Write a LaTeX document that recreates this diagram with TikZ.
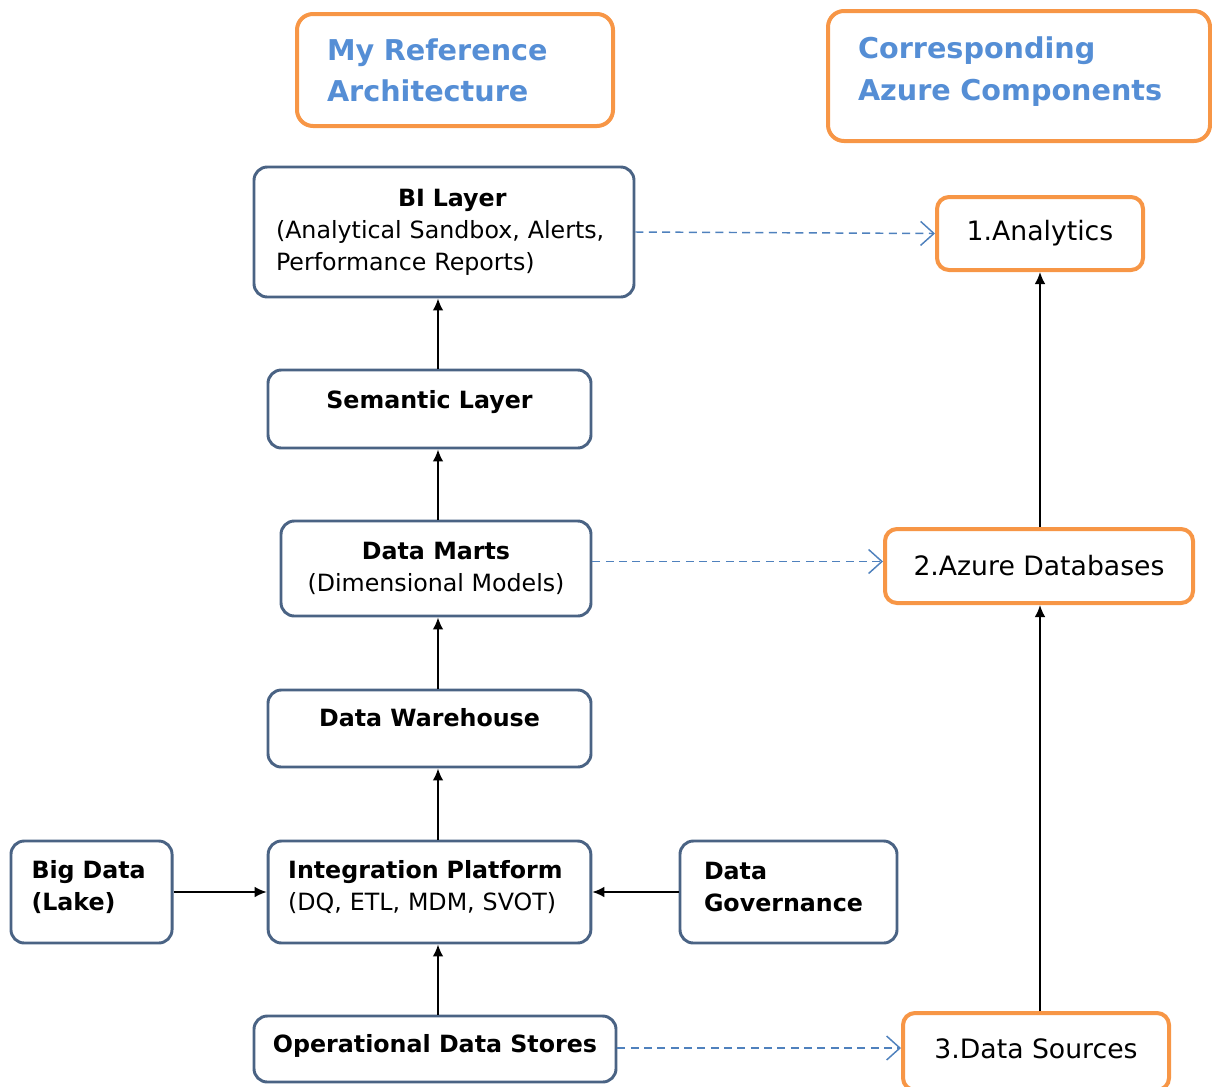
\documentclass[tikz,border=0pt]{standalone}
\usepackage{fontspec}
\setmainfont{DejaVu Sans}
\usepackage{xcolor}
\usetikzlibrary{arrows.meta,positioning}
\definecolor{archslate}{HTML}{4A6384}
\definecolor{azorange}{HTML}{F79646}
\definecolor{headblue}{HTML}{558ED5}
\definecolor{maplink}{HTML}{4F81BD}
\newcommand{\layerfont}{\fontsize{17.8pt}{24pt}\selectfont}
\newcommand{\azfont}{\fontsize{20pt}{24pt}\selectfont}
\newcommand{\headfont}{\fontsize{21.5pt}{31pt}\selectfont\bfseries}

\begin{document}
\begin{tikzpicture}[x=0.75pt, y=-0.75pt,
  layer/.style={draw=archslate, line width=2.2pt, rounded corners=10pt, fill=white,
    inner sep=0pt, font=\layerfont},
  azbox/.style={draw=azorange, line width=3pt, rounded corners=9pt, fill=white,
    inner sep=0pt, font=\azfont},
  headbox/.style={draw=azorange, line width=3pt, rounded corners=12pt, inner sep=0pt,
    inner xsep=22.5pt, text=headblue, font=\headfont, align=left},
  flow/.style={-{Latex[length=9pt,width=8pt]}, line width=1.3pt},
  maps/.style={-{Straight Barb[length=10pt,width=18pt]}, maplink, line width=1.1pt,
    dash pattern=on 6pt off 4pt}]
  \useasboundingbox (0,0) rectangle (1212,1086);
  \clip (0,0) rectangle (1212,1086);

  % ── Column headings ──
  \node[headbox, text width=192pt, minimum height=84pt] (refhead) at (455,70)
    {My Reference\\Architecture};
  \node[headbox, text width=241.5pt, minimum height=97.5pt, text depth=42pt] (azhead) at (1019,76)
    {Corresponding\\Azure Components};

  % ── Reference architecture layers ──
  \node[layer, text width=252pt, inner xsep=16.5pt, minimum height=97.5pt, align=left] (bi) at (444,232)
    {\hspace*{91.5pt}\textbf{BI Layer}\\(Analytical Sandbox, Alerts,\\Performance Reports)};
  \node[layer, minimum width=242.25pt, minimum height=58.5pt, text depth=14.7pt] (sem) at (429.5,409)
    {\textbf{Semantic Layer}};
  \node[layer, minimum width=232.5pt, minimum height=71.25pt, align=center] (dm) at (436,568.5)
    {\textbf{Data Marts}\\(Dimensional Models)};
  \node[layer, minimum width=242.25pt, minimum height=57.75pt, text depth=16.5pt] (dw) at (429.5,728.5)
    {\textbf{Data Warehouse}};
  \node[layer, text width=212pt, inner xsep=15pt, minimum height=76.5pt, align=left,
    text depth=33.8pt] (ip) at (429.5,892)
    {\textbf{Integration Platform}\\(DQ, ETL, MDM, SVOT)};
  \node[layer, text width=90pt, inner xsep=15.4pt, minimum height=76.5pt, align=left,
    text depth=33.8pt] (bd) at (91.5,892)
    {\textbf{Big Data}\\\textbf{(Lake)}};
  \node[layer, text width=126.75pt, inner xsep=18pt, minimum height=76.5pt, align=left,
    text depth=31.5pt] (dg) at (788.5,892)
    {\textbf{Data}\\\textbf{Governance}};
  \node[layer, minimum width=271.5pt, minimum height=49.5pt, text depth=8.7pt] (ods) at (435,1049)
    {\textbf{Operational Data Stores}};

  % ── Azure components ──
  \node[azbox, minimum width=154.5pt, minimum height=54.75pt] (an) at (1040,233.5) {1.Analytics};
  \node[azbox, minimum width=231pt, minimum height=55.5pt] (az) at (1039,566) {2.Azure Databases};
  \node[azbox, minimum width=199.5pt, minimum height=57.75pt, text depth=4.5pt] (ds) at (1036,1051.5)
    {3.Data Sources};

  % ── Data flow ──
  \coordinate (spine) at (438,0);
  \draw[flow] (ods.north -| spine) -- (ip.south -| spine);
  \draw[flow] (ip.north -| spine) -- (dw.south -| spine);
  \draw[flow] (dw.north -| spine) -- (dm.south -| spine);
  \draw[flow] (dm.north -| spine) -- (sem.south -| spine);
  \draw[flow] (sem.north -| spine) -- (bi.south -| spine);
  \draw[flow] (bd.east) -- (ip.west);
  \draw[flow] (dg.west) -- (ip.east);
  \draw[flow] (ds.north -| an.south) -- (az.south -| an.south);
  \draw[flow] (az.north -| an.south) -- (an.south);

  % ── Mapping to Azure ──
  \draw[maps] (bi.east) -- (an.west);
  \draw[maps] ([yshift=5.25pt]dm.east) coordinate (dmlink) -- (dmlink -| az.west);
  \draw[maps] ([yshift=0.75pt]ods.east) coordinate (odslink) -- (odslink -| ds.west);
\end{tikzpicture}
\end{document}
